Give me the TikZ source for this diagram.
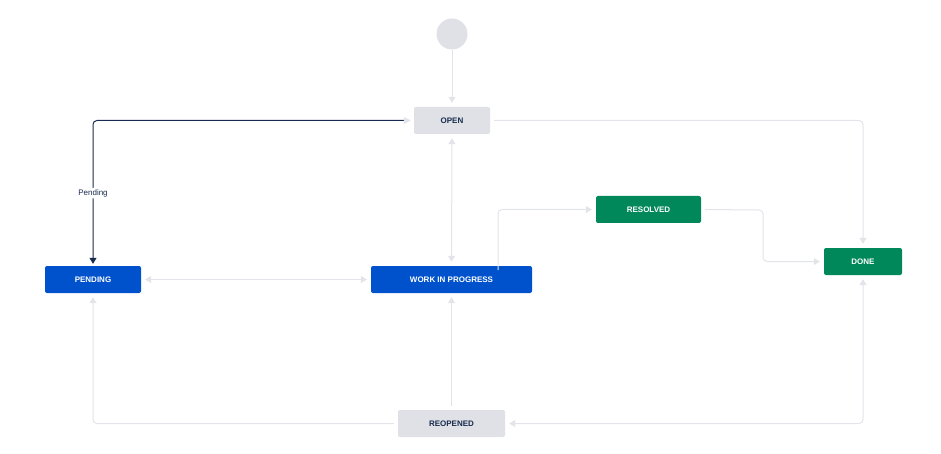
\documentclass[tikz,border=0pt]{standalone}
\usepackage{fontspec}
\setmainfont{Liberation Sans}
\usetikzlibrary{arrows.meta}
\definecolor{lg}{HTML}{DFE1E6}
\definecolor{ln}{HTML}{E2E4E9}
\definecolor{dk}{HTML}{172B4D}
\definecolor{bl}{HTML}{0052CC}
\definecolor{gr}{HTML}{00875A}
\tikzset{
 st/.style={rounded corners=2pt, minimum height=27pt, inner sep=0pt, font=\bfseries\fontsize{8}{9}\selectfont},
 gst/.style={st, fill=lg, text=dk},
 bst/.style={st, fill=bl, text=white},
 nst/.style={st, fill=gr, text=white},
 ed/.style={draw=ln, line width=1pt, rounded corners=4pt, -{Triangle[width=7pt,length=6pt]}},
 bd/.style={ed, {Triangle[width=7pt,length=6pt]}-{Triangle[width=7pt,length=6pt]}},
}
\begin{document}
\begin{tikzpicture}[x=1pt,y=-1pt]
\useasboundingbox (0,0) rectangle (941,454);
\node[circle, fill=lg, minimum size=31pt, inner sep=0pt] (start) at (452,34) {};
\node[gst, minimum width=76pt] (open) at (452,120.5) {OPEN};
\node[bst, minimum width=96pt] (pend) at (93,279.5) {PENDING};
\node[bst, minimum width=161pt] (wip) at (451.5,279.5) {WORK IN PROGRESS};
\node[nst, minimum width=105pt] (res) at (648.5,209.5) {RESOLVED};
\node[nst, minimum width=78pt] (done) at (863,261.5) {DONE};
\node[gst, minimum width=107pt] (reo) at (451.5,423.5) {REOPENED};
\draw[ed, shorten >=4pt] (start) -- (open);
\draw[ed, shorten <=4pt, shorten >=4pt] (open.east) -| (done.north);
\draw[draw=dk, line width=1pt, rounded corners=4pt, -{Triangle[width=7pt,length=6pt]}, shorten <=4pt, shorten >=2pt] ([xshift=-4pt]open.west) -| node[pos=0.75, fill=white, text=dk, font=\fontsize{8}{9}\selectfont, inner sep=1.5pt]{Pending} (pend.north);
\fill[ln] ([xshift=-3pt]open.west) -- ++(-7,-3.5) -- ++(0,7) -- cycle;
\draw[bd, shorten <=4pt, shorten >=4pt] (open) -- (wip);
\draw[bd, shorten <=4pt, shorten >=4pt] (pend) -- (wip);
\coordinate (w1) at (498,266);
\draw[ed, shorten >=4pt] ([yshift=-4pt]w1) |- (res.west);
\coordinate (r1) at (763,210);
\draw[ed, shorten <=4pt, shorten >=4pt] (res.east) -- (r1) |- (done.west);
\draw[ed, shorten <=4pt, shorten >=4pt] (reo) -- (wip);
\draw[ed, shorten <=4pt, shorten >=4pt] (reo.west) -| (pend.south);
\draw[bd, shorten <=4pt, shorten >=4pt] (done.south) |- (reo.east);
\end{tikzpicture}
\end{document}
